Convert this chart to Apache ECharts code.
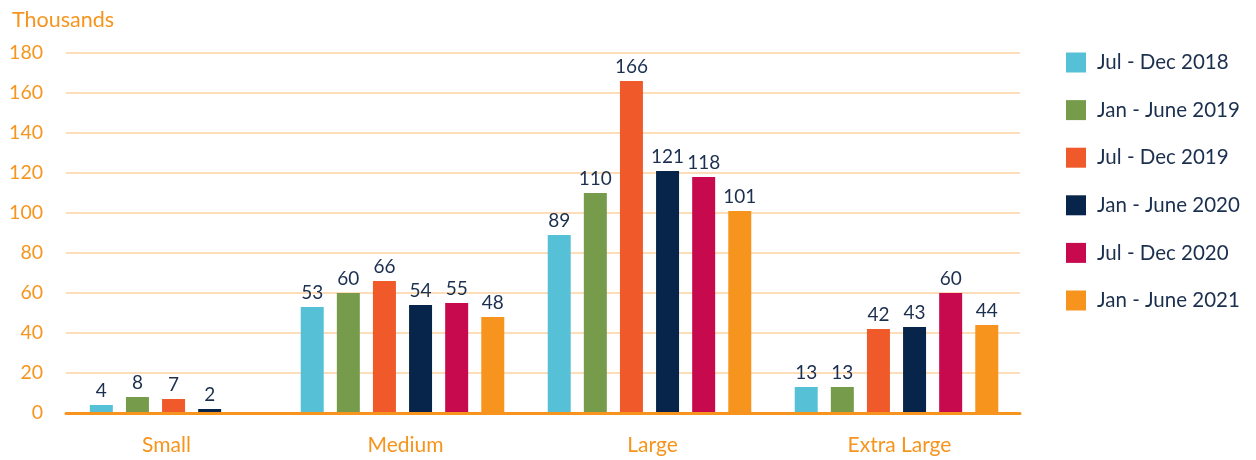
<!DOCTYPE html>
<html>
<head>
<meta charset="utf-8">
<script src="https://cdn.jsdelivr.net/npm/echarts@6/dist/echarts.min.js"></script>
<style>
  html, body { margin: 0; padding: 0; background: #fff; }
  #chart { width: 1256px; height: 460px; }
</style>
</head>
<body>
<div id="chart"></div>
<script>
// Business size categories
const categories = ['Small', 'Medium', 'Large', 'Extra Large'];

// Half-year periods (legend order)
const periods = ['Jul - Dec 2018', 'Jan - June 2019', 'Jul - Dec 2019', 'Jan - June 2020', 'Jul - Dec 2020', 'Jan - June 2021'];
const colors = ['#56C1D6', '#769C4B', '#F05A2A', '#07254A', '#C70A4D', '#F7941D'];

// Values in thousands, per period, for Medium / Large / Extra Large
const julDec2018 = [53, 89, 13];
const janJun2019 = [60, 110, 13];
const julDec2019 = [66, 166, 42];
const janJun2020 = [54, 121, 43];
const julDec2020 = [55, 118, 60];
const janJun2021 = [48, 101, 44];

// Small businesses only have the first four periods
const smallValues = [4, 8, 7, 2];

const yTicks = { min: 0, max: 180, interval: 20 };

const mainSeriesData = [julDec2018, janJun2019, julDec2019, janJun2020, julDec2020, janJun2021];

const ORANGE = '#F7941D';
const NAVY = '#1B2F4E';
const FONT = 'Lato';

const labelStyle = {
  show: true,
  position: 'top',
  distance: 5,
  color: NAVY,
  fontSize: 19,
  fontFamily: FONT
};

const series = [];
mainSeriesData.forEach((vals, i) => {
  series.push({
    name: periods[i],
    type: 'bar',
    xAxisIndex: 0,
    yAxisIndex: 0,
    barWidth: 23,
    barGap: '57%',
    itemStyle: { color: colors[i] },
    label: labelStyle,
    data: ['-'].concat(vals)
  });
});
smallValues.forEach((v, i) => {
  series.push({
    name: periods[i],
    type: 'bar',
    xAxisIndex: 1,
    yAxisIndex: 0,
    barWidth: 23,
    barGap: '57%',
    itemStyle: { color: colors[i] },
    label: labelStyle,
    data: [v, '-', '-', '-']
  });
});

const chart = echarts.init(document.getElementById('chart'), null, { renderer: 'canvas' });
chart.setOption({
  animation: false,
  textStyle: { fontFamily: FONT },
  title: {
    text: 'Thousands',
    left: 7,
    top: 4,
    textStyle: { color: ORANGE, fontSize: 21.5, fontWeight: 'normal', fontFamily: FONT }
  },
  legend: {
    orient: 'vertical',
    left: 1061,
    top: 47,
    itemWidth: 20,
    itemHeight: 20,
    itemGap: 26.6,
    icon: 'rect',
    data: periods,
    textStyle: { color: NAVY, fontSize: 20.5, fontFamily: FONT, padding: [0, 0, 0, 6] }
  },
  grid: [
    { left: 32, right: 236, top: 53, bottom: 47 },
    { left: 66, right: 236, top: 53, bottom: 47 }
  ],
  xAxis: [
    {
      type: 'category',
      gridIndex: 0,
      data: categories,
      axisLine: { show: false },
      axisTick: { show: false },
      axisLabel: {
        color: ORANGE,
        fontSize: 21,
        fontFamily: FONT,
        margin: 22,
        formatter: (v) => (v === 'Small' ? '{s|' + v + '}' : '{d|' + v + '}'),
        rich: {
          s: { color: ORANGE, fontSize: 21, fontFamily: FONT, padding: [0, 0, 0, 22] },
          d: { color: ORANGE, fontSize: 21, fontFamily: FONT, padding: [0, 0, 0, 6] }
        }
      },
      z: 1
    },
    {
      type: 'category',
      gridIndex: 0,
      data: categories,
      show: false
    },
    {
      type: 'value',
      gridIndex: 1,
      min: 0,
      max: 1,
      axisLine: { show: true, lineStyle: { color: ORANGE, width: 3 } },
      axisTick: { show: false },
      axisLabel: { show: false },
      splitLine: { show: false },
      z: 5
    }
  ],
  yAxis: [
    {
      type: 'value',
      gridIndex: 0,
      min: yTicks.min,
      max: yTicks.max,
      interval: yTicks.interval,
      show: false
    },
    {
      type: 'value',
      gridIndex: 1,
      min: yTicks.min,
      max: yTicks.max,
      interval: yTicks.interval,
      axisLine: { show: false },
      axisTick: { show: false },
      axisLabel: { color: ORANGE, fontSize: 19.5, fontFamily: FONT, margin: 23 },
      splitLine: { lineStyle: { color: '#FDD3A2', width: 1.5 } }
    }
  ],
  series: series
});
</script>
</body>
</html>
